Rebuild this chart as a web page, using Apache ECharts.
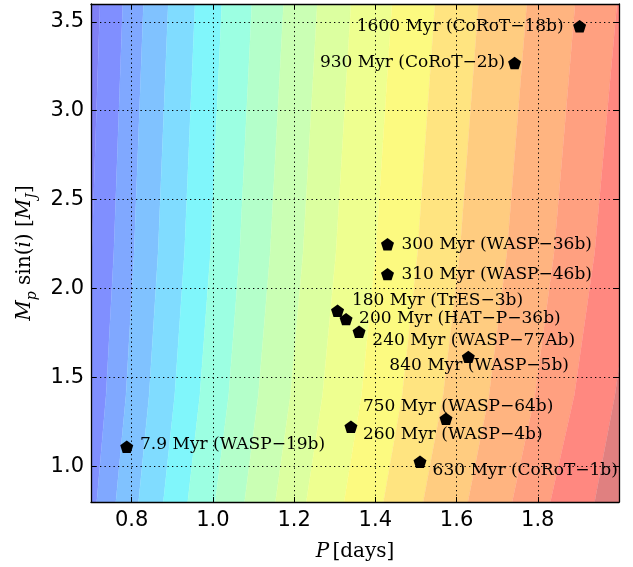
<!DOCTYPE html>
<html><head><meta charset="utf-8">
<script src="https://cdn.jsdelivr.net/npm/echarts@6/dist/echarts.min.js"></script>
<style>html,body{margin:0;padding:0;background:#fff}#c{width:633px;height:567px}</style>
</head><body><div id="c"></div>
<script>
// ---- data ----
const planetNames = ['CoRoT−18b','CoRoT−2b','WASP−36b','WASP−46b','TrES−3b','HAT−P−36b','WASP−77Ab','WASP−5b','WASP−64b','WASP−4b','CoRoT−1b','WASP−19b'];
const planetAges  = ['1600','930','300','310','180','200','240','840','750','260','630','7.9'];
const periods     = [1.903,1.743,1.430,1.430,1.307,1.328,1.360,1.629,1.574,1.340,1.510,0.788];
const masses      = [3.475,3.268,2.249,2.081,1.875,1.828,1.757,1.616,1.268,1.223,1.026,1.111];

// contour band boundaries: P (days) of each boundary, read at four mass levels
const edgeMassLevels = [0.8, 1.4, 2.2, 3.6];
const bandEdgesM08 = [0.663,0.714,0.761,0.817,0.878,0.938,1.006,1.078,1.154,1.230,1.323,1.420,1.518,1.628,1.737,1.831,1.940];
const bandEdgesM14 = [0.684,0.737,0.786,0.843,0.906,0.968,1.039,1.112,1.191,1.270,1.366,1.466,1.567,1.680,1.793,1.890,1.990];
const bandEdgesM22 = [0.702,0.756,0.806,0.865,0.930,0.994,1.066,1.141,1.222,1.303,1.401,1.504,1.608,1.724,1.840,1.940,2.040];
const bandEdgesM36 = [0.722,0.778,0.829,0.890,0.956,1.022,1.096,1.174,1.257,1.340,1.441,1.547,1.654,1.773,1.892,1.995,2.110];
const bandColors = ['#8080f4','#808fff','#80a8ff','#80c2ff','#80dcff','#80f6fb','#9cffe2','#b4ffca','#caffb4','#dcffa0','#eeff90','#fcfa80','#ffe480','#ffcc80','#ffb480','#ffa080','#ff8880','#e08080'];

const xRange = [0.7, 2.0];
const yRange = [0.8, 3.6];

// ---- styling (kept separate from data) ----
const labelPlacement = [
  ['right',-16,0],['right',-9.5,0],['left',14,0],['left',14,0],['left',14.4,-10.7],['left',13,-1],
  ['left',13.3,9],['left',-79,8.3],['left',-83,-12],['left',12,8.3],['left',12.6,9],['left',13.3,-1.7]
];
const SERIF = "'DejaVu Serif', serif";
const SANS = "'DejaVu Sans', sans-serif";

const chart = echarts.init(document.getElementById('c'), null, {renderer:'canvas'});

const edgeTable = [bandEdgesM08, bandEdgesM14, bandEdgesM22, bandEdgesM36];
function edgePoints(i, api, reverse) {
  const pts = edgeMassLevels.map((m, k) => api.coord([edgeTable[k][i], m]));
  const a = pts[0], b = pts[1];
  const c = pts[pts.length - 2], d = pts[pts.length - 1];
  pts.unshift([a[0] + (a[0] - b[0]) * 0.05, a[1] + (a[1] - b[1]) * 0.05]);
  pts.push([d[0] + (d[0] - c[0]) * 0.05, d[1] + (d[1] - c[1]) * 0.05]);
  return reverse ? pts.reverse() : pts;
}

const scatterData = periods.map((p, i) => ({
  value: [p, masses[i]],
  label: {
    show: true,
    formatter: planetAges[i] + ' Myr (' + planetNames[i] + ')',
    position: 'inside',
    align: labelPlacement[i][0],
    verticalAlign: 'middle',
    offset: [labelPlacement[i][1], labelPlacement[i][2]],
    color: '#000', fontFamily: SERIF, fontSize: 17
  }
}));

const pentagon = 'path://M0,-1 L0.951,-0.309 L0.588,0.809 L-0.588,0.809 L-0.951,-0.309 Z';

const axisCommon = {
  type: 'value', z: 5,
  axisLine: {show: true, onZero: false, lineStyle: {color: '#000', width: 1.3}},
  axisTick: {show: true, inside: true, length: 5, lineStyle: {color: '#000', width: 1}},
};

chart.setOption({
  animation: false,
  backgroundColor: '#fff',
  grid: {left: 91, right: 14, top: 4, bottom: 65},
  xAxis: [
    Object.assign({}, axisCommon, {
      position: 'bottom', min: xRange[0], max: xRange[1], splitNumber: 6,
      axisLabel: {show: true, margin: 8, color: '#000', fontFamily: SANS, fontSize: 21,
        showMinLabel: false, showMaxLabel: false, formatter: v => v.toFixed(1)},
      splitLine: {show: true, lineStyle: {color: '#000', width: 1, type: [1.3, 3.2]}},
      name: '{i|P} {r|[days]}', nameLocation: 'middle', nameGap: 40,
      nameTextStyle: {rich: {
        i: {fontFamily: SERIF, fontStyle: 'italic', fontSize: 20, color: '#000'},
        r: {fontFamily: SERIF, fontSize: 20, color: '#000'}
      }}
    }),
    Object.assign({}, axisCommon, {
      position: 'top', min: xRange[0], max: xRange[1], splitNumber: 6,
      axisLabel: {show: false}, splitLine: {show: false}
    })
  ],
  yAxis: [
    Object.assign({}, axisCommon, {
      position: 'left', min: yRange[0], max: yRange[1], splitNumber: 5,
      axisLabel: {show: true, margin: 7, color: '#000', fontFamily: SANS, fontSize: 21,
        showMinLabel: false, showMaxLabel: false, formatter: v => v.toFixed(1)},
      splitLine: {show: true, lineStyle: {color: '#000', width: 1, type: [1.3, 3.2]}},
      name: '{i|M}{sub|p}{r| sin(}{i|i}{r|) [}{i|M}{sub|J}{r|]}',
      nameLocation: 'middle', nameGap: 52, nameRotate: 90,
      nameTextStyle: {rich: {
        i: {fontFamily: SERIF, fontStyle: 'italic', fontSize: 20, lineHeight: 28, verticalAlign: 'middle', color: '#000'},
        r: {fontFamily: SERIF, fontSize: 20, lineHeight: 28, verticalAlign: 'middle', color: '#000'},
        sub: {fontFamily: SERIF, fontStyle: 'italic', fontSize: 14, lineHeight: 14, verticalAlign: 'bottom', color: '#000'}
      }}
    }),
    Object.assign({}, axisCommon, {
      position: 'right', min: yRange[0], max: yRange[1], splitNumber: 5,
      axisLabel: {show: false}, splitLine: {show: false}
    })
  ],
  series: [
    {
      type: 'custom', z: 1, clip: true, silent: true,
      xAxisIndex: 0, yAxisIndex: 0,
      data: bandColors.map((c, i) => [i]),
      renderItem: function (params, api) {
        const i = params.dataIndex;
        const n = bandEdgesM36.length;
        let leftPts, rightPts;
        if (i === 0) {
          leftPts = [api.coord([0.5, 0.6]), api.coord([0.5, 3.8])];
        } else {
          leftPts = edgePoints(i - 1, api, false);
        }
        if (i >= n) {
          rightPts = [api.coord([2.4, 3.8]), api.coord([2.4, 0.6])];
        } else {
          rightPts = edgePoints(i, api, true);
        }
        return {type: 'polygon', shape: {points: leftPts.concat(rightPts)},
          style: {fill: bandColors[i], stroke: bandColors[i], lineWidth: 0.3}};
      }
    },
    {
      type: 'scatter', z: 10, xAxisIndex: 0, yAxisIndex: 0,
      symbol: pentagon, symbolSize: [13, 12.4],
      itemStyle: {color: '#000', opacity: 1},
      data: scatterData
    }
  ]
});
</script></body></html>
